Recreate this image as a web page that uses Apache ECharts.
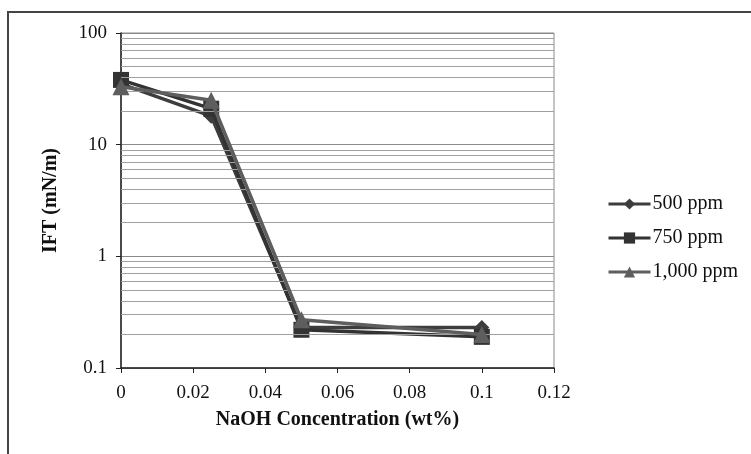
<!DOCTYPE html>
<html>
<head>
<meta charset="utf-8">
<script src="https://cdn.jsdelivr.net/npm/echarts@6/dist/echarts.min.js"></script>
<style>
  html, body { margin: 0; padding: 0; background: #fff; }
  #chart { width: 751px; height: 454px; }
</style>
</head>
<body>
<div id="chart"></div>
<script>
// NaOH concentration (wt%)
const naoh = [0, 0.025, 0.05, 0.1];
// IFT (mN/m) for each surfactant concentration
const ift500 = [35, 18, 0.23, 0.23];
const ift750 = [38, 21, 0.22, 0.19];
const ift1000 = [33, 25, 0.27, 0.20];
const seriesNames = ['500 ppm', '750 ppm', '1,000 ppm'];
const yTicks = [0.1, 1, 10, 100];
// minor log grid lines (2..9 in each decade)
const minorGrid = [];
[0.1, 1, 10].forEach(d => { for (let k = 2; k <= 9; k++) minorGrid.push(+(d * k).toPrecision(3)); });

const font = '"Liberation Serif", "DejaVu Serif", serif';
const toPairs = ys => naoh.map((x, i) => [x, ys[i]]);

const chart = echarts.init(document.getElementById('chart'), null, { renderer: 'canvas' });

function mkSeries(name, ys, symbol, size, color, z) {
  return {
    name, type: 'line', data: toPairs(ys),
    symbol, symbolSize: size,
    lineStyle: { color, width: 3.5 },
    itemStyle: { color },
    z, animation: false
  };
}

const series = [
  mkSeries(seriesNames[0], ift500, 'diamond', 15, '#3d3d3d', 3),
  mkSeries(seriesNames[1], ift750, 'rect', 16, '#333333', 4),
  mkSeries(seriesNames[2], ift1000, 'triangle', 17, '#5e5e5e', 5)
];
// minor grid lines drawn on the log axis
series.push({
  type: 'line', data: [], silent: true, z: 1,
  markLine: {
    silent: true, symbol: 'none', label: { show: false },
    lineStyle: { color: '#a0a0a0', width: 1, type: 'solid' },
    data: minorGrid.map(v => ({ yAxis: v }))
  }
});

chart.setOption({
  animation: false,
  backgroundColor: '#ffffff',
  graphic: [{
    type: 'rect', shape: { x: 8, y: 12, width: 900, height: 600 },
    style: { fill: 'none', stroke: '#444', lineWidth: 2 }, silent: true
  }],
  grid: { left: 121, right: 197, top: 33, bottom: 86, show: true, borderColor: '#8a8a8a', borderWidth: 1 },
  legend: {
    data: seriesNames,
    orient: 'vertical', left: 602, top: 189,
    itemWidth: 42, itemHeight: 14, itemGap: 14,
    lineStyle: { width: 3 },
    textStyle: { fontFamily: font, fontSize: 20, color: '#111', padding: [0, 0, 0, -3] }
  },
  xAxis: {
    type: 'value', min: 0, max: 0.12, interval: 0.02,
    name: 'NaOH Concentration (wt%)', nameLocation: 'middle', nameGap: 42,
    nameTextStyle: { fontFamily: font, fontSize: 20, fontWeight: 'bold', color: '#111' },
    axisLine: { lineStyle: { color: '#222', width: 1.5 } },
    axisTick: { show: true, inside: false, length: 5, lineStyle: { color: '#222' } },
    axisLabel: {
      fontFamily: font, fontSize: 19, color: '#111', margin: 16,
      formatter: v => String(parseFloat(v.toFixed(2)))
    },
    splitLine: { show: false }
  },
  yAxis: {
    type: 'log', logBase: 10, min: 0.1, max: 100,
    name: 'IFT (mN/m)', nameLocation: 'middle', nameGap: 60, nameRotate: 90,
    nameTextStyle: { fontFamily: font, fontSize: 20, fontWeight: 'bold', color: '#111' },
    axisLine: { show: true, lineStyle: { color: '#222', width: 1.5 } },
    axisTick: { show: true, inside: false, length: 5, lineStyle: { color: '#222' } },
    axisLabel: {
      fontFamily: font, fontSize: 19, color: '#111', margin: 14,
      formatter: v => {
        const t = yTicks.find(tk => Math.abs(tk - v) / tk < 1e-6);
        return t !== undefined ? String(t) : '';
      }
    },
    splitLine: { show: true, lineStyle: { color: '#8a8a8a', width: 1 } }
  },
  series
});
</script>
</body>
</html>
